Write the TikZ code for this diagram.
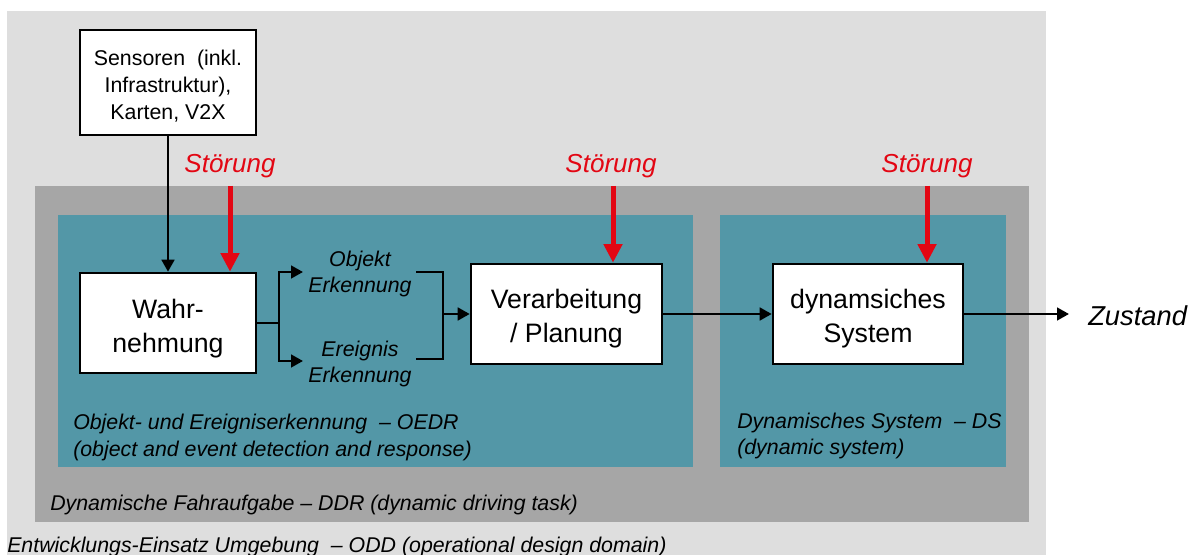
\documentclass[tikz,border=0pt]{standalone}
\usepackage{fontspec}
\setmainfont{Liberation Sans}
\usetikzlibrary{arrows.meta}
\definecolor{oddc}{RGB}{222,222,222}
\definecolor{ddtc}{RGB}{166,166,166}
\definecolor{tealc}{RGB}{83,151,167}
\definecolor{redc}{RGB}{227,6,19}
\tikzset{
  blockbox/.style={draw=black, line width=1.9pt, fill=white, align=center, inner sep=0pt,
    font=\fontsize{20}{26}\selectfont},
  arr/.style={line width=1.9pt, -{Triangle[length=9pt,width=9.5pt]}},
  conn/.style={line width=1.9pt},
  redarr/.style={redc, line width=3.75pt, -{Triangle[length=14pt,width=13.5pt]}},
  stoer/.style={redc, font=\fontsize{19.5}{24}\selectfont\itshape, anchor=base, inner sep=0pt},
  lbl/.style={font=\fontsize{16}{20}\selectfont\itshape, align=left, anchor=base west, inner sep=0pt},
  sublbl/.style={font=\fontsize{16}{20}\selectfont\itshape, align=center, anchor=base, inner sep=0pt},
}
\begin{document}
\begin{tikzpicture}[x=0.75pt,y=-0.75pt]
\useasboundingbox (0,0) rectangle (1195,555);
% regions
\fill[oddc] (7,11) rectangle (1046,565);
\fill[ddtc] (35,186) rectangle (1029,522);
\fill[tealc] (58,215) rectangle (693,467);
\fill[tealc] (720,215) rectangle (1006,467);
% region labels (base = last line)
\node[lbl] (oedr) at (73,456) {Objekt- und Ereigniserkennung\ \ – OEDR\\(object and event detection and response)};
\node[lbl] (ds) at (737,455) {Dynamisches System\ \ – DS\\(dynamic system)};
\node[lbl] (ddr) at (50,510) {Dynamische Fahraufgabe – DDR (dynamic driving task)};
\node[lbl] (odd) at (7,552) {Entwicklungs-Einsatz Umgebung\ \ – ODD (operational design domain)};
% blocks
\node[blockbox, minimum width=132pt, minimum height=78.75pt, font=\fontsize{16}{20.6}\selectfont,
  text height=56.25pt, text depth=0pt] (sens) at (168,82.5) {Sensoren\ \ (inkl.\\Infrastruktur),\\Karten, V2X};
\node[blockbox, minimum width=132pt, minimum height=75pt, text height=45pt, text depth=0pt] (wahr) at (168,323) {Wahr-\\nehmung};
\node[blockbox, minimum width=143.25pt, minimum height=75pt, text height=43.5pt, text depth=0pt] (verarb) at (566.5,314) {Verarbeitung\\/ Planung};
\node[blockbox, minimum width=142.5pt, minimum height=75pt, text height=43.5pt, text depth=0pt] (dyn) at (868,314) {dynamsiches\\System};
% sub labels
\node[sublbl] (obj) at (360,293) {Objekt\\Erkennung};
\node[sublbl] (ereig) at (360,383) {Ereignis\\Erkennung};
\node[font=\fontsize{20.5}{24}\selectfont\itshape, anchor=base west, inner sep=0pt] (zust) at (1088,326) {Zustand};
% Stoerung labels
\node[stoer] (st1) at (230,173) {Störung};
\node[stoer] (st2) at (611,173) {Störung};
\node[stoer] (st3) at (927,173) {Störung};
% coordinates
\coordinate (r1) at (230,186);
\coordinate (r2) at (613,186);
\coordinate (r3) at (927,186);
\coordinate (b1) at (279,323);
\coordinate (oa) at (303,272);
\coordinate (ea) at (303,361);
\coordinate (ot) at (416,272);
\coordinate (et) at (416,359);
\coordinate (b2) at (443,314);
\coordinate (za) at (1069,314);
% connectors
\draw[arr] (sens.south) -- (wahr.north);
\draw[conn] (wahr.east) -- (b1);
\draw[arr] (b1) |- (oa);
\draw[arr] (b1) |- (ea);
\draw[conn] (ot) -| (b2) |- (et);
\draw[arr] (b2) -- (verarb.west);
\draw[arr] (verarb.east) -- (dyn.west);
\draw[arr] (dyn.east) -- (za);
% disturbances
\draw[redarr] (r1) -- (r1 |- wahr.north);
\draw[redarr] (r2) -- (r2 |- verarb.north);
\draw[redarr] (r3) -- (r3 |- dyn.north);
\end{tikzpicture}
\end{document}
